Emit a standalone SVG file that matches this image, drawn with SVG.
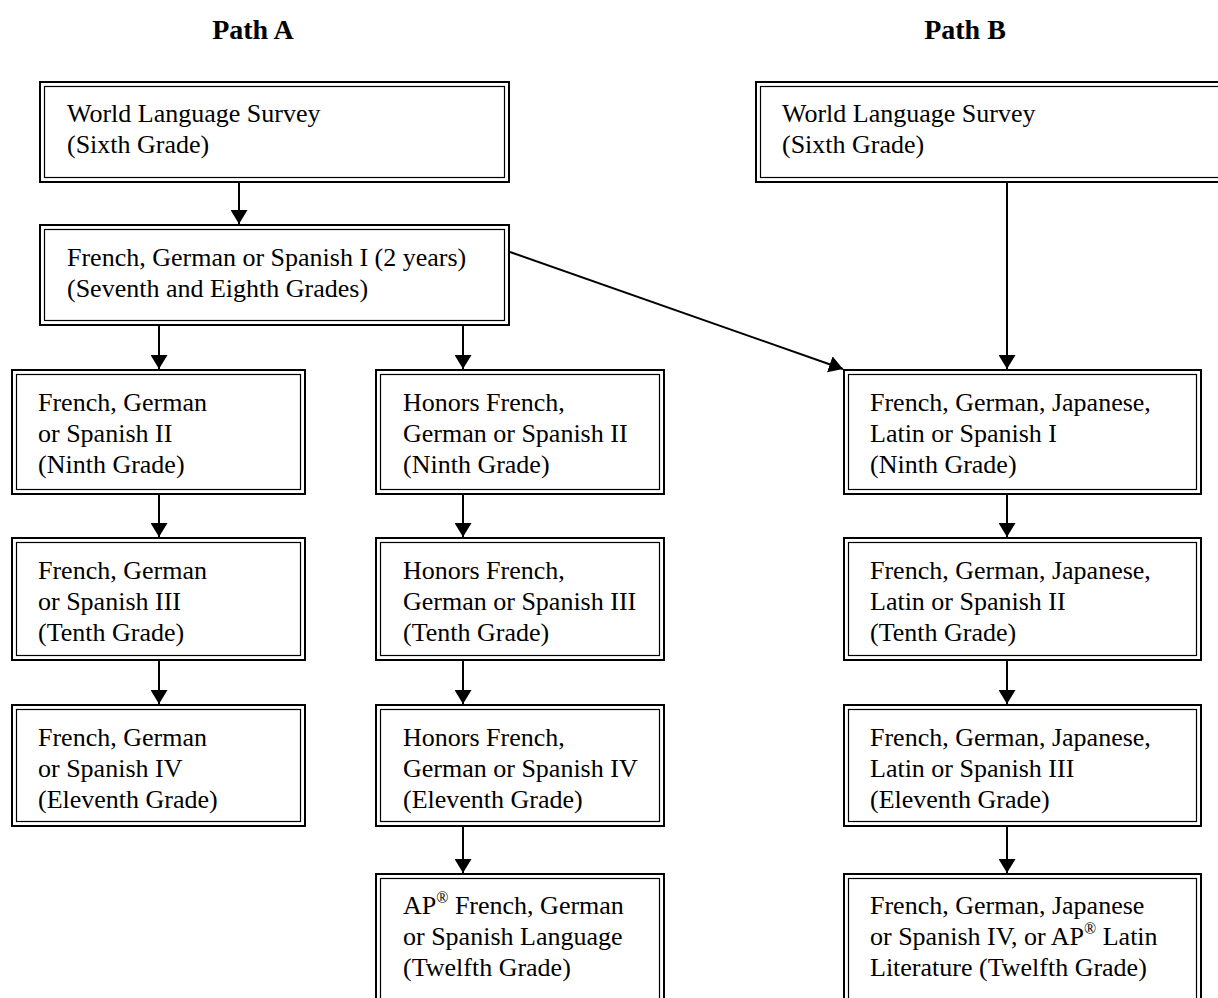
<svg xmlns="http://www.w3.org/2000/svg" width="1218" height="998" viewBox="0 0 1218 998">
<style>
.o{fill:#fff;stroke:#000;stroke-width:2}
.i{fill:none;stroke:#000;stroke-width:1.2}
text{font-family:"Liberation Serif","Times New Roman",serif;font-size:26px;fill:#000}
.t{font-weight:bold;font-size:28px}
.c{stroke:#000;stroke-width:2;fill:none;marker-end:url(#ah)}
</style>
<defs>
<marker id="ah" markerUnits="userSpaceOnUse" viewBox="0 0 14 17" refX="14" refY="8.5" markerWidth="14" markerHeight="17" orient="auto">
<path d="M0,0 L14,8.5 L0,17 z" fill="#000"/>
</marker>
</defs>
<rect width="1218" height="998" fill="#fff"/>
<text class="t" x="253" y="39" text-anchor="middle">Path A</text>
<text class="t" x="965" y="39" text-anchor="middle">Path B</text>

<g id="a1"><rect class="o" x="40" y="82" width="469" height="100"/><rect class="i" x="44.5" y="86.5" width="460" height="91"/>
<text x="67" y="122">World Language Survey</text><text x="67" y="153">(Sixth Grade)</text></g>
<g id="b1"><rect class="o" x="756" y="82" width="480" height="100"/><rect class="i" x="760.5" y="86.5" width="471" height="91"/>
<text x="782" y="122">World Language Survey</text><text x="782" y="153">(Sixth Grade)</text></g>
<g id="a2"><rect class="o" x="40" y="225" width="469" height="100"/><rect class="i" x="44.5" y="229.5" width="460" height="91"/>
<text x="67" y="266">French, German or Spanish I (2 years)</text><text x="67" y="297">(Seventh and Eighth Grades)</text></g>

<g id="l3"><rect class="o" x="12" y="370" width="293" height="124"/><rect class="i" x="16.5" y="374.5" width="284" height="115"/>
<text x="38" y="411">French, German</text><text x="38" y="442">or Spanish II</text><text x="38" y="473">(Ninth Grade)</text></g>
<g id="l4"><rect class="o" x="12" y="538" width="293" height="122"/><rect class="i" x="16.5" y="542.5" width="284" height="113"/>
<text x="38" y="579">French, German</text><text x="38" y="610">or Spanish III</text><text x="38" y="641">(Tenth Grade)</text></g>
<g id="l5"><rect class="o" x="12" y="705" width="293" height="121"/><rect class="i" x="16.5" y="709.5" width="284" height="112"/>
<text x="38" y="746">French, German</text><text x="38" y="777">or Spanish IV</text><text x="38" y="808">(Eleventh Grade)</text></g>

<g id="m3"><rect class="o" x="376" y="370" width="288" height="124"/><rect class="i" x="380.5" y="374.5" width="279" height="115"/>
<text x="403" y="411">Honors French,</text><text x="403" y="442">German or Spanish II</text><text x="403" y="473">(Ninth Grade)</text></g>
<g id="m4"><rect class="o" x="376" y="538" width="288" height="122"/><rect class="i" x="380.5" y="542.5" width="279" height="113"/>
<text x="403" y="579">Honors French,</text><text x="403" y="610">German or Spanish III</text><text x="403" y="641">(Tenth Grade)</text></g>
<g id="m5"><rect class="o" x="376" y="705" width="288" height="121"/><rect class="i" x="380.5" y="709.5" width="279" height="112"/>
<text x="403" y="746">Honors French,</text><text x="403" y="777">German or Spanish IV</text><text x="403" y="808">(Eleventh Grade)</text></g>
<g id="m6"><rect class="o" x="376" y="874" width="288" height="140"/><rect class="i" x="380.5" y="878.5" width="279" height="131"/>
<text x="403" y="914">AP<tspan font-size="16" dy="-11">®</tspan><tspan dy="11"> French, German</tspan></text><text x="403" y="945">or Spanish Language</text><text x="403" y="976">(Twelfth Grade)</text></g>

<g id="b3"><rect class="o" x="844" y="370" width="357" height="124"/><rect class="i" x="848.5" y="374.5" width="348" height="115"/>
<text x="870" y="411">French, German, Japanese,</text><text x="870" y="442">Latin or Spanish I</text><text x="870" y="473">(Ninth Grade)</text></g>
<g id="b4"><rect class="o" x="844" y="538" width="357" height="122"/><rect class="i" x="848.5" y="542.5" width="348" height="113"/>
<text x="870" y="579">French, German, Japanese,</text><text x="870" y="610">Latin or Spanish II</text><text x="870" y="641">(Tenth Grade)</text></g>
<g id="b5"><rect class="o" x="844" y="705" width="357" height="121"/><rect class="i" x="848.5" y="709.5" width="348" height="112"/>
<text x="870" y="746">French, German, Japanese,</text><text x="870" y="777">Latin or Spanish III</text><text x="870" y="808">(Eleventh Grade)</text></g>
<g id="b6"><rect class="o" x="844" y="874" width="357" height="140"/><rect class="i" x="848.5" y="878.5" width="348" height="131"/>
<text x="870" y="914">French, German, Japanese</text><text x="870" y="945">or Spanish IV, or AP<tspan font-size="16" dy="-11">®</tspan><tspan dy="11"> Latin</tspan></text><text x="870" y="976">Literature (Twelfth Grade)</text></g>

<g id="connectors">
<line class="c" x1="239" y1="183" x2="239" y2="224"/>
<line class="c" x1="159" y1="326" x2="159" y2="369"/>
<line class="c" x1="463" y1="326" x2="463" y2="369"/>
<line class="c" x1="510" y1="252" x2="843" y2="369"/>
<line class="c" x1="1007" y1="183" x2="1007" y2="369"/>
<line class="c" x1="159" y1="495" x2="159" y2="537"/>
<line class="c" x1="159" y1="661" x2="159" y2="704"/>
<line class="c" x1="463" y1="495" x2="463" y2="537"/>
<line class="c" x1="463" y1="661" x2="463" y2="704"/>
<line class="c" x1="463" y1="827" x2="463" y2="873"/>
<line class="c" x1="1007" y1="495" x2="1007" y2="537"/>
<line class="c" x1="1007" y1="661" x2="1007" y2="704"/>
<line class="c" x1="1007" y1="827" x2="1007" y2="873"/>
</g>
</svg>
